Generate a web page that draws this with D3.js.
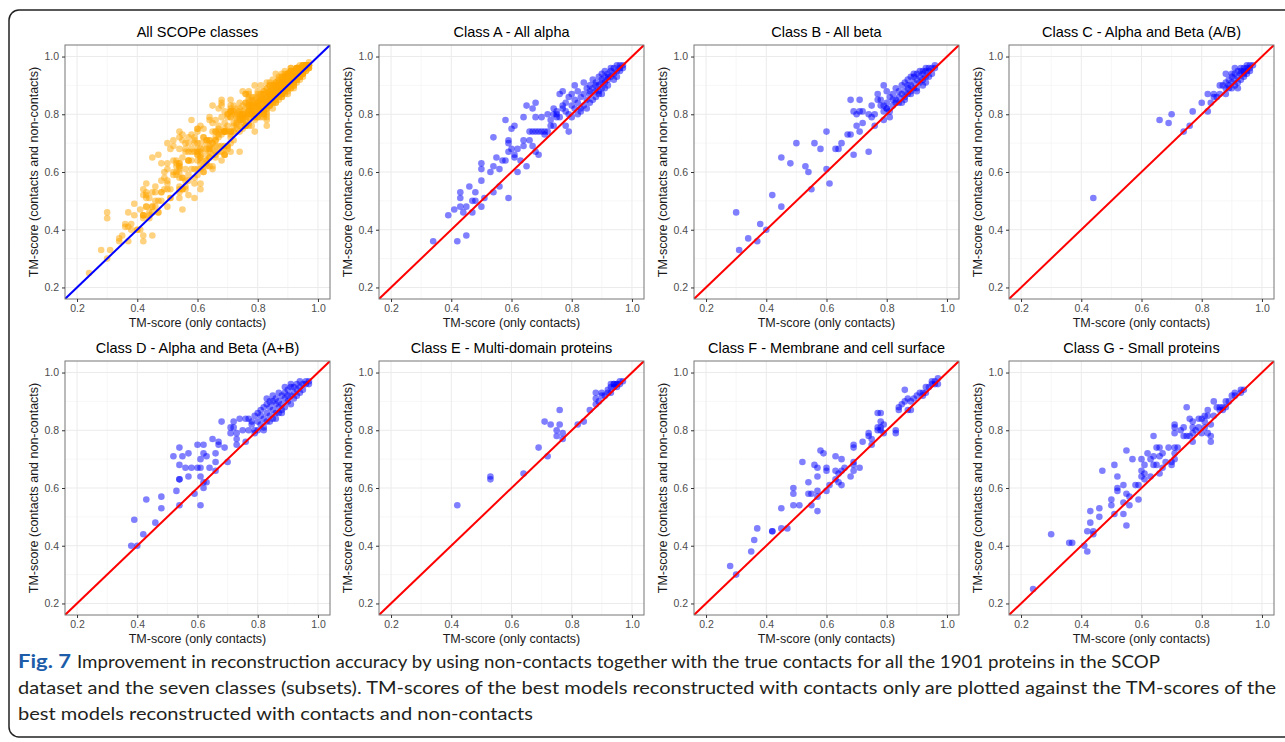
<!DOCTYPE html>
<html lang="en">
<head>
<meta charset="UTF-8">
<title>Fig. 7 - TM-score with and without non-contacts</title>
<script src="https://d3js.org/d3.v7.min.js"></script>
<style>
  body { margin: 0; background: #fff; }
  svg { font-family: "Liberation Sans", Arial, sans-serif; display: block; }
  .tick text { fill: #4d4d4d; font-size: 10.5px; }
  .tick line { stroke: #333; }
  .title { font-size: 14.5px; fill: #000; text-anchor: middle; }
  .axis-title { font-size: 12.5px; fill: #1a1a1a; text-anchor: middle; }
  .caption { font-family: Lato, "Open Sans", sans-serif; font-size: 18px; fill: #231f20; }
</style>
</head>
<body>
<div id="chart"></div>
<script>
// axis ticks shared by all panels
const tickValues = [0.2, 0.4, 0.6, 0.8, 1.0];
const minorTicks = [0.3, 0.5, 0.7, 0.9];

const titles = [
  "All SCOPe classes",
  "Class A - All alpha",
  "Class B - All beta",
  "Class C - Alpha and Beta (A/B)",
  "Class D - Alpha and Beta (A+B)",
  "Class E - Multi-domain proteins",
  "Class F - Membrane and cell surface",
  "Class G - Small proteins"
];

// [TM-score only contacts, TM-score contacts + non-contacts]
const classA = [
  [0.34,0.36],[0.42,0.36],[0.45,0.38],[0.39,0.45],[0.41,0.47],[0.43,0.48],[0.45,0.48],[0.44,0.46],
  [0.47,0.46],[0.43,0.51],[0.43,0.53],[0.46,0.55],[0.48,0.53],[0.47,0.50],[0.48,0.50],[0.50,0.48],
  [0.51,0.51],[0.50,0.57],[0.50,0.61],[0.50,0.63],[0.54,0.53],[0.53,0.60],[0.54,0.62],[0.54,0.72],
  [0.56,0.55],[0.55,0.65],[0.56,0.61],[0.57,0.64],[0.58,0.64],[0.58,0.78],[0.59,0.71],[0.59,0.70],
  [0.59,0.67],[0.60,0.68],[0.61,0.66],[0.61,0.65],[0.61,0.76],[0.59,0.51],[0.60,0.75],[0.62,0.68],
  [0.63,0.64],[0.62,0.60],[0.64,0.71],[0.64,0.69],[0.65,0.62],[0.64,0.79],[0.65,0.83],[0.67,0.82],
  [0.68,0.84],[0.66,0.74],[0.67,0.74],[0.68,0.74],[0.69,0.74],[0.70,0.74],[0.71,0.74],[0.66,0.71],
  [0.67,0.69],[0.68,0.67],[0.69,0.66],[0.68,0.79],[0.70,0.79],[0.72,0.80],[0.71,0.73],[0.72,0.74],
  [0.73,0.78],[0.75,0.79],[0.73,0.76],[0.74,0.76],[0.76,0.79],[0.77,0.83],[0.76,0.87],[0.77,0.88],
  [0.74,0.82],[0.74,0.80],[0.75,0.81],[0.75,0.80],[0.79,0.74],[0.78,0.76],[0.81,0.90],
  [0.77,0.82],[0.78,0.81],[0.78,0.84],[0.79,0.86],[0.80,0.83],[0.80,0.87],[0.81,0.82],[0.81,0.85],
  [0.82,0.84],[0.82,0.88],[0.83,0.86],[0.83,0.82],[0.84,0.87],[0.84,0.91],[0.85,0.85],[0.85,0.89],
  [0.86,0.87],[0.86,0.84],[0.86,0.90],[0.87,0.89],[0.87,0.92],[0.88,0.88],[0.88,0.91],[0.88,0.86],
  [0.89,0.90],[0.89,0.93],[0.89,0.87],[0.90,0.92],[0.90,0.89],[0.90,0.94],[0.91,0.91],[0.91,0.93],
  [0.91,0.95],[0.92,0.92],[0.92,0.94],[0.92,0.90],[0.93,0.95],[0.93,0.93],[0.93,0.96],[0.94,0.94],
  [0.94,0.96],[0.94,0.92],[0.95,0.95],[0.95,0.97],[0.96,0.96],[0.96,0.97],[0.97,0.97],[0.96,0.95],
  [0.95,0.93],[0.97,0.96],[0.84,0.83],[0.85,0.82],[0.87,0.85],[0.89,0.88],[0.90,0.87],[0.91,0.89],
  [0.82,0.80],[0.79,0.80],[0.80,0.79],[0.83,0.81],[0.86,0.88],[0.88,0.90],[0.90,0.91],[0.92,0.93]
];

const classB = [
  [0.30,0.46],[0.31,0.33],[0.34,0.37],[0.37,0.36],[0.38,0.42],[0.40,0.40],[0.42,0.52],[0.45,0.48],
  [0.45,0.65],[0.48,0.63],[0.50,0.70],[0.53,0.62],[0.54,0.60],[0.55,0.54],[0.56,0.70],[0.58,0.68],
  [0.60,0.74],[0.60,0.61],[0.61,0.56],[0.63,0.68],[0.64,0.68],[0.65,0.70],[0.67,0.73],[0.68,0.73],
  [0.69,0.66],[0.68,0.85],[0.71,0.85],[0.69,0.81],[0.70,0.80],[0.71,0.81],[0.72,0.81],[0.70,0.76],
  [0.71,0.74],[0.72,0.77],[0.74,0.67],[0.74,0.80],[0.75,0.79],[0.76,0.80],[0.76,0.76],[0.75,0.83],
  [0.77,0.85],[0.77,0.87],[0.79,0.90],[0.80,0.88],[0.79,0.83],[0.79,0.81],[0.80,0.82],[0.81,0.79],
  [0.79,0.78],[0.78,0.85],[0.78,0.83],
  [0.80,0.84],[0.81,0.86],[0.82,0.83],[0.82,0.87],[0.83,0.85],[0.83,0.89],[0.84,0.86],[0.84,0.88],
  [0.85,0.84],[0.85,0.87],[0.85,0.90],[0.86,0.88],[0.86,0.91],[0.86,0.85],[0.87,0.89],[0.87,0.92],
  [0.87,0.87],[0.88,0.90],[0.88,0.93],[0.88,0.87],[0.89,0.91],[0.89,0.89],[0.89,0.93],[0.90,0.92],
  [0.90,0.94],[0.90,0.89],[0.90,0.88],[0.91,0.93],[0.91,0.95],[0.91,0.91],[0.92,0.94],[0.92,0.92],
  [0.92,0.90],[0.93,0.95],[0.93,0.93],[0.94,0.95],[0.94,0.96],[0.94,0.93],[0.95,0.96],[0.95,0.94],
  [0.96,0.97],[0.96,0.96],[0.82,0.85],[0.84,0.84],[0.86,0.86],[0.88,0.88],[0.80,0.82],[0.81,0.81],
  [0.83,0.84],[0.87,0.90],[0.89,0.94],[0.92,0.95],[0.93,0.91],[0.93,0.96]
];

const classC = [
  [0.44,0.51],[0.66,0.78],[0.69,0.77],[0.70,0.80],[0.74,0.74],[0.76,0.76],[0.77,0.81],[0.80,0.84],
  [0.82,0.81],[0.82,0.87],[0.84,0.87],[0.86,0.87],[0.83,0.84],[0.85,0.86],[0.84,0.86],[0.86,0.90],
  [0.87,0.90],[0.88,0.89],[0.88,0.87],[0.88,0.94],
  [0.88,0.91],[0.89,0.90],[0.89,0.92],[0.90,0.89],[0.90,0.91],[0.90,0.93],[0.90,0.94],[0.91,0.92],
  [0.91,0.90],[0.91,0.94],[0.92,0.93],[0.92,0.91],[0.92,0.95],[0.93,0.94],[0.93,0.92],[0.93,0.96],
  [0.94,0.95],[0.94,0.93],[0.94,0.96],[0.95,0.96],[0.95,0.94],[0.95,0.97],[0.96,0.97],[0.96,0.95],
  [0.96,0.96],[0.97,0.97],[0.92,0.89],[0.91,0.96],[0.89,0.89],[0.93,0.95],[0.94,0.94],[0.95,0.95]
];

const classD = [
  [0.38,0.40],[0.40,0.40],[0.39,0.49],[0.42,0.44],[0.43,0.56],[0.46,0.48],[0.48,0.57],[0.48,0.53],
  [0.52,0.71],[0.53,0.59],[0.54,0.74],[0.54,0.68],[0.54,0.63],[0.54,0.63],[0.54,0.54],[0.55,0.71],
  [0.56,0.67],[0.57,0.72],[0.57,0.64],[0.58,0.67],[0.59,0.58],[0.60,0.75],[0.60,0.67],[0.61,0.67],
  [0.61,0.70],[0.61,0.64],[0.61,0.54],[0.62,0.75],[0.62,0.72],[0.62,0.60],[0.62,0.62],[0.63,0.71],
  [0.63,0.62],[0.64,0.67],[0.65,0.77],[0.66,0.69],[0.66,0.72],[0.66,0.66],[0.67,0.75],[0.67,0.76],
  [0.68,0.83],[0.69,0.74],[0.70,0.69],[0.71,0.81],[0.71,0.79],[0.72,0.83],[0.72,0.81],[0.73,0.79],
  [0.73,0.77],[0.73,0.75],[0.74,0.84],[0.76,0.84],[0.75,0.80],[0.76,0.76],[0.77,0.80],[0.78,0.83],
  [0.79,0.80],[0.79,0.85],[0.79,0.79],[0.77,0.84],[0.78,0.82],
  [0.80,0.83],[0.80,0.86],[0.81,0.82],[0.81,0.85],[0.82,0.84],[0.82,0.88],[0.82,0.81],[0.83,0.86],
  [0.83,0.83],[0.83,0.89],[0.84,0.85],[0.84,0.88],[0.84,0.90],[0.85,0.87],[0.85,0.84],[0.85,0.90],
  [0.86,0.86],[0.86,0.89],[0.86,0.91],[0.87,0.88],[0.87,0.90],[0.87,0.86],[0.88,0.89],[0.88,0.92],
  [0.88,0.87],[0.89,0.91],[0.89,0.88],[0.89,0.93],[0.90,0.90],[0.90,0.92],[0.90,0.94],[0.91,0.92],
  [0.91,0.89],[0.91,0.95],[0.92,0.93],[0.92,0.91],[0.92,0.95],[0.93,0.94],[0.93,0.92],[0.93,0.96],
  [0.94,0.95],[0.94,0.93],[0.94,0.97],[0.95,0.96],[0.95,0.94],[0.96,0.97],[0.96,0.96],[0.97,0.96],
  [0.97,0.97],[0.84,0.83],[0.86,0.84],[0.88,0.86],[0.80,0.80],[0.82,0.80],[0.81,0.87],[0.83,0.91],
  [0.85,0.92],[0.87,0.93],[0.89,0.95],[0.91,0.96]
];

const classE = [
  [0.42,0.54],[0.53,0.64],[0.53,0.63],[0.64,0.65],[0.69,0.74],[0.71,0.83],[0.72,0.71],[0.73,0.82],
  [0.75,0.80],[0.75,0.78],[0.76,0.87],[0.76,0.82],[0.77,0.79],[0.77,0.77],[0.82,0.82],[0.84,0.83],
  [0.86,0.87],[0.88,0.93],[0.88,0.91],[0.88,0.89],[0.89,0.90],[0.90,0.93],[0.90,0.92],[0.91,0.92],
  [0.92,0.93],[0.92,0.94],[0.93,0.95],[0.93,0.93],[0.94,0.96],[0.95,0.96],[0.96,0.96],[0.97,0.97],
  [0.94,0.95],[0.95,0.95],[0.93,0.96],[0.96,0.97],[0.94,0.96],[0.95,0.96]
];

const classF = [
  [0.28,0.33],[0.30,0.30],[0.35,0.38],[0.36,0.42],[0.37,0.46],[0.42,0.45],[0.42,0.45],[0.45,0.53],
  [0.45,0.46],[0.47,0.46],[0.49,0.60],[0.49,0.58],[0.49,0.54],[0.51,0.54],[0.52,0.69],[0.54,0.62],
  [0.54,0.58],[0.55,0.58],[0.55,0.54],[0.56,0.68],[0.57,0.67],[0.57,0.64],[0.57,0.59],[0.57,0.57],
  [0.57,0.52],[0.58,0.73],[0.59,0.72],[0.60,0.67],[0.60,0.66],[0.60,0.59],[0.61,0.61],[0.63,0.71],
  [0.63,0.66],[0.63,0.63],[0.64,0.65],[0.64,0.62],[0.65,0.70],[0.65,0.61],[0.65,0.66],[0.66,0.67],
  [0.68,0.64],[0.69,0.75],[0.69,0.74],[0.69,0.68],[0.69,0.66],[0.69,0.69],[0.71,0.67],[0.72,0.76],
  [0.74,0.79],[0.74,0.78],[0.75,0.77],[0.75,0.75],[0.77,0.86],[0.78,0.86],[0.77,0.81],[0.77,0.80],
  [0.78,0.83],[0.78,0.81],[0.78,0.80],[0.79,0.82],[0.79,0.79],[0.83,0.80],[0.83,0.79],[0.84,0.87],
  [0.84,0.88],[0.85,0.89],[0.86,0.94],[0.86,0.90],[0.87,0.91],[0.87,0.87],[0.88,0.90],[0.88,0.87],
  [0.89,0.91],[0.90,0.92],[0.91,0.93],[0.92,0.93],[0.92,0.92],[0.93,0.95],[0.93,0.93],[0.94,0.95],
  [0.95,0.96],[0.96,0.97],[0.97,0.98],[0.95,0.97],[0.96,0.96],[0.97,0.96]
];

const classG = [
  [0.24,0.25],[0.30,0.44],[0.36,0.41],[0.37,0.41],[0.41,0.40],[0.42,0.38],[0.42,0.45],[0.43,0.48],
  [0.43,0.52],[0.44,0.45],[0.44,0.44],[0.46,0.50],[0.46,0.53],[0.47,0.66],[0.50,0.56],[0.50,0.54],
  [0.51,0.68],[0.51,0.51],[0.52,0.64],[0.52,0.60],[0.52,0.59],[0.54,0.61],[0.54,0.55],[0.54,0.51],
  [0.55,0.73],[0.55,0.58],[0.55,0.47],[0.56,0.57],[0.56,0.54],[0.57,0.70],[0.58,0.61],[0.59,0.61],
  [0.59,0.56],[0.60,0.70],[0.60,0.66],[0.60,0.64],[0.61,0.68],[0.61,0.65],[0.61,0.63],[0.62,0.72],
  [0.63,0.70],[0.63,0.64],[0.64,0.78],[0.64,0.71],[0.64,0.68],[0.65,0.74],[0.65,0.68],[0.66,0.74],
  [0.66,0.71],[0.66,0.65],[0.67,0.72],[0.67,0.67],[0.68,0.69],[0.69,0.74],[0.70,0.68],[0.70,0.69],
  [0.71,0.70],[0.71,0.72],[0.71,0.74],[0.71,0.82],[0.71,0.81],[0.71,0.79],[0.72,0.74],[0.73,0.80],
  [0.74,0.78],[0.74,0.81],[0.75,0.88],[0.75,0.78],[0.76,0.84],[0.76,0.78],[0.77,0.83],[0.77,0.81],
  [0.77,0.79],[0.77,0.76],[0.78,0.80],[0.79,0.84],[0.80,0.84],[0.79,0.81],[0.80,0.79],[0.81,0.85],
  [0.81,0.83],[0.81,0.81],[0.82,0.87],[0.82,0.85],[0.82,0.79],[0.83,0.82],[0.83,0.78],[0.83,0.76],
  [0.84,0.90],[0.84,0.85],[0.85,0.88],[0.86,0.87],[0.87,0.87],[0.88,0.88],[0.88,0.90],[0.89,0.90],
  [0.90,0.92],[0.91,0.93],[0.93,0.94],[0.94,0.94],[0.91,0.92],[0.93,0.93],[0.87,0.88],[0.86,0.88]
];

// first panel pools every class
const allClasses = [].concat(classA, classB, classC, classD, classE, classF, classG);
const panelData = [allClasses, classA, classB, classC, classD, classE, classF, classG];
const pointColors = ["#ffa500", "#0000ff", "#0000ff", "#0000ff", "#0000ff", "#0000ff", "#0000ff", "#0000ff"];
const lineColors = ["#0000ff", "#ff0000", "#ff0000", "#ff0000", "#ff0000", "#ff0000", "#ff0000", "#ff0000"];

const captionLines = [
  "Improvement in reconstruction accuracy by using non-contacts together with the true contacts for all the 1901 proteins in the SCOP",
  "dataset and the seven classes (subsets). TM-scores of the best models reconstructed with contacts only are plotted against the TM-scores of the",
  "best models reconstructed with contacts and non-contacts"
];

const width = 1285, height = 742;
const colX = [65, 379, 694, 1009], rowY = [45, 361];
const pw = 265, ph = 254;
const domain = [0.16, 1.04];

const svg = d3.select("#chart").append("svg")
  .attr("width", width).attr("height", height);

// outer frame of the figure
svg.append("rect")
  .attr("x", 9).attr("y", 10).attr("width", 1300).attr("height", 727)
  .attr("rx", 10).attr("fill", "none").attr("stroke", "#222").attr("stroke-width", 1.5);

panelData.forEach((data, i) => {
  const px = colX[i % 4], py = rowY[Math.floor(i / 4)];
  const g = svg.append("g").attr("transform", `translate(${px},${py})`);
  const x = d3.scaleLinear().domain(domain).range([0, pw]);
  const y = d3.scaleLinear().domain(domain).range([ph, 0]);

  // grid
  g.selectAll(".minor-x").data(minorTicks).enter().append("line")
    .attr("x1", d => x(d)).attr("x2", d => x(d)).attr("y1", 0).attr("y2", ph)
    .attr("stroke", "#f1f1f1").attr("stroke-width", 0.6);
  g.selectAll(".minor-y").data(minorTicks).enter().append("line")
    .attr("y1", d => y(d)).attr("y2", d => y(d)).attr("x1", 0).attr("x2", pw)
    .attr("stroke", "#f1f1f1").attr("stroke-width", 0.6);
  g.selectAll(".major-x").data(tickValues).enter().append("line")
    .attr("x1", d => x(d)).attr("x2", d => x(d)).attr("y1", 0).attr("y2", ph)
    .attr("stroke", "#ebebeb").attr("stroke-width", 1);
  g.selectAll(".major-y").data(tickValues).enter().append("line")
    .attr("y1", d => y(d)).attr("y2", d => y(d)).attr("x1", 0).attr("x2", pw)
    .attr("stroke", "#ebebeb").attr("stroke-width", 1);

  const clipId = "clip" + i;
  g.append("clipPath").attr("id", clipId)
    .append("rect").attr("width", pw).attr("height", ph);

  const plot = g.append("g").attr("clip-path", `url(#${clipId})`);

  plot.selectAll("circle").data(data).enter().append("circle")
    .attr("cx", d => x(d[0])).attr("cy", d => y(d[1])).attr("r", 3.3)
    .attr("fill", pointColors[i]).attr("fill-opacity", 0.5);

  // y = x reference line
  plot.append("path")
    .datum(domain.map(v => [v, v]))
    .attr("d", d3.line().x(d => x(d[0])).y(d => y(d[1])))
    .attr("stroke", lineColors[i]).attr("stroke-width", 2).attr("fill", "none");

  g.append("rect").attr("width", pw).attr("height", ph)
    .attr("fill", "none").attr("stroke", "#777").attr("stroke-width", 1);

  const fmt = d3.format(".1f");
  const xAxis = g.append("g").attr("transform", `translate(0,${ph})`)
    .call(d3.axisBottom(x).tickValues(tickValues).tickFormat(fmt).tickSize(3).tickPadding(3));
  const yAxis = g.append("g")
    .call(d3.axisLeft(y).tickValues(tickValues).tickFormat(fmt).tickSize(3).tickPadding(3));
  xAxis.select(".domain").remove();
  yAxis.select(".domain").remove();
  svg.selectAll(".tick text").attr("font-family", null).attr("font-size", null);

  g.append("text").attr("class", "title")
    .attr("x", pw / 2).attr("y", -8).text(titles[i]);
  g.append("text").attr("class", "axis-title")
    .attr("x", pw / 2).attr("y", ph + 28).text("TM-score (only contacts)");
  g.append("text").attr("class", "axis-title")
    .attr("transform", `translate(-31,${ph / 2}) rotate(-90)`)
    .attr("dy", "0.35em").text("TM-score (contacts and non-contacts)");
});

// caption
const cap = svg.append("g").attr("class", "caption");
cap.append("text").attr("x", 18).attr("y", 668)
  .attr("font-weight", "bold").attr("fill", "#1c5ca8")
  .attr("textLength", 53).attr("lengthAdjust", "spacingAndGlyphs").text("Fig. 7");
cap.append("text").attr("x", 77).attr("y", 668)
  .attr("textLength", 1083).attr("lengthAdjust", "spacingAndGlyphs").text(captionLines[0]);
cap.append("text").attr("x", 18).attr("y", 694)
  .attr("textLength", 1258).attr("lengthAdjust", "spacingAndGlyphs").text(captionLines[1]);
cap.append("text").attr("x", 18).attr("y", 720)
  .attr("textLength", 515).attr("lengthAdjust", "spacingAndGlyphs").text(captionLines[2]);
</script>
</body>
</html>
